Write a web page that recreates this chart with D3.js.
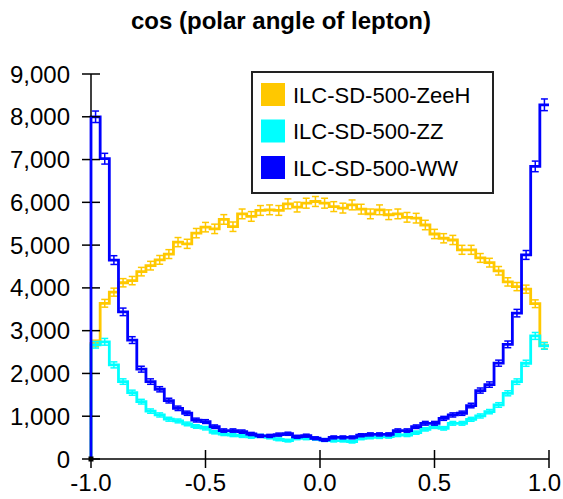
<!DOCTYPE html>
<html>
<head>
<meta charset="utf-8">
<script src="https://cdn.jsdelivr.net/npm/d3@7"></script>
<style>
  html, body { margin: 0; padding: 0; background: #fff; }
  svg { display: block; }
  text { font-family: "Liberation Sans", Arial, Helvetica, sans-serif; fill: #000; }
</style>
</head>
<body>
<svg id="chart" width="563" height="499"></svg>
<script>
// ---------------- DATA ----------------
const title = "cos (polar angle of lepton)";
const seriesNames = ["ILC-SD-500-ZeeH", "ILC-SD-500-ZZ", "ILC-SD-500-WW"];
const binEdgesRange = [-1, 1];
const nBins = 50;

const zeeH = [2700, 3640, 3900, 4120, 4170, 4380, 4520, 4655, 4790, 5070,
              5030, 5280, 5420, 5380, 5600, 5430, 5730, 5670, 5810, 5825,
              5810, 5965, 5890, 5980, 6020, 5980, 5900, 5865, 5940, 5840,
              5730, 5825, 5710, 5730, 5650, 5630, 5470, 5260, 5160, 5120,
              4890, 4890, 4700, 4590, 4400, 4140, 4030, 3970, 3630, 2650];

const zz = [2670, 2740, 2200, 1810, 1550, 1340, 1120, 1030, 930, 890,
            820, 760, 720, 625, 585, 560, 540, 520, 540, 505,
            460, 430, 485, 485, 475, 444, 430, 430, 405, 484,
            507, 515, 522, 561, 561, 616, 694, 756, 717, 834,
            834, 928, 1006, 1107, 1263, 1536, 1809, 2238, 2877, 2643];

const ww = [8000, 7020, 4650, 3440, 2780, 2100, 1810, 1630, 1365, 1185,
            1070, 910, 875, 755, 665, 665, 640, 585, 540, 540,
            570, 590, 520, 545, 485, 445, 505, 505, 505, 555,
            575, 575, 575, 665, 665, 755, 835, 835, 950, 1030,
            1070, 1250, 1600, 1740, 2240, 2680, 3410, 4770, 6840, 8280];

const xTicks = [-1.0, -0.5, 0.0, 0.5, 1.0];
const yTicks = [0, 1000, 2000, 3000, 4000, 5000, 6000, 7000, 8000, 9000];
const colors = ["#ffc800", "#00ffff", "#0000ff"];

// ---------------- CHART ----------------
const svg = d3.select("#chart");
const x = d3.scaleLinear().domain(binEdgesRange).range([91, 549]);
const y = d3.scaleLinear().domain([0, 9000]).range([459, 74]);
const binW = (binEdgesRange[1] - binEdgesRange[0]) / nBins;
const errScale = 1.5;

svg.append("text")
  .attr("x", 281).attr("y", 29)
  .attr("text-anchor", "middle")
  .style("font-size", "24px").style("font-weight", "bold")
  .text(title);

const plot = svg.append("g");

function drawSeries(values, color) {
  const g = plot.append("g");
  const pts = [[x(binEdgesRange[0]), y(0)]];
  values.forEach((v, i) => {
    const x0 = binEdgesRange[0] + i * binW;
    pts.push([x(x0), y(v)]);
    pts.push([x(x0 + binW), y(v)]);
  });
  g.append("path")
    .attr("d", d3.line()(pts))
    .attr("fill", "none")
    .attr("stroke", color)
    .attr("stroke-width", 2.8)
    .attr("stroke-linejoin", "miter");
  values.forEach((v, i) => {
    const xc = binEdgesRange[0] + (i + 0.5) * binW;
    const e = Math.sqrt(v) * errScale;
    const cx = x(xc);
    const hw = (x(binW) - x(0)) * 0.38;
    g.append("line")
      .attr("x1", cx).attr("x2", cx)
      .attr("y1", y(v - e)).attr("y2", y(v + e))
      .attr("stroke", color).attr("stroke-width", 1.5);
    [v - e, v + e].forEach(t => {
      g.append("line")
        .attr("x1", cx - hw).attr("x2", cx + hw)
        .attr("y1", y(t)).attr("y2", y(t))
        .attr("stroke", color).attr("stroke-width", 1.5);
    });
  });
}

drawSeries(zeeH, colors[0]);
drawSeries(zz, colors[1]);
drawSeries(ww, colors[2]);

// axes
const axG = svg.append("g");
axG.append("line")
  .attr("x1", x(-1)).attr("x2", x(-1))
  .attr("y1", y(9000)).attr("y2", y(0))
  .attr("stroke", "#000").attr("stroke-width", 1.5);
axG.append("line")
  .attr("x1", x(-1)).attr("x2", x(1))
  .attr("y1", y(0)).attr("y2", y(0))
  .attr("stroke", "#000").attr("stroke-width", 1.5);

const fmtX = t => d3.format(".1f")(t).replace("\u2212", "-");
yTicks.forEach(t => {
  axG.append("line")
    .attr("x1", x(-1) - 9).attr("x2", x(-1) + 9)
    .attr("y1", y(t)).attr("y2", y(t))
    .attr("stroke", "#000").attr("stroke-width", 1.5);
  axG.append("text")
    .attr("x", 70).attr("y", y(t) + 8.5)
    .attr("text-anchor", "end")
    .style("font-size", "24px")
    .text(d3.format(",")(t));
});
xTicks.forEach((t, i) => {
  axG.append("line")
    .attr("x1", x(t)).attr("x2", x(t))
    .attr("y1", y(0) - 9).attr("y2", y(0) + 9)
    .attr("stroke", "#000").attr("stroke-width", 1.5);
  const last = i === xTicks.length - 1;
  axG.append("text")
    .attr("x", last ? 561 : x(t)).attr("y", 491)
    .attr("text-anchor", last ? "end" : "middle")
    .style("font-size", "24px")
    .text(fmtX(t));
});
axG.append("line")
  .attr("x1", x(-1)).attr("x2", x(-1))
  .attr("y1", y(0)).attr("y2", y(ww[0]))
  .attr("stroke", colors[2]).attr("stroke-width", 2);
axG.append("rect")
  .attr("x", x(-1) - 2.5).attr("y", y(0) - 2.5)
  .attr("width", 5).attr("height", 5)
  .attr("fill", "#000");

// legend
const lg = svg.append("g");
lg.append("rect")
  .attr("x", 252).attr("y", 72).attr("width", 241).attr("height", 121)
  .attr("fill", "#fff").attr("stroke", "#222").attr("stroke-width", 2);
seriesNames.forEach((n, i) => {
  const cy = 94.5 + i * 36.5;
  lg.append("rect")
    .attr("x", 261).attr("y", cy - 11.5)
    .attr("width", 24).attr("height", 23)
    .attr("fill", colors[i]);
  lg.append("text")
    .attr("x", 293).attr("y", cy + 8)
    .style("font-size", "22px")
    .text(n);
});
</script>
</body>
</html>
